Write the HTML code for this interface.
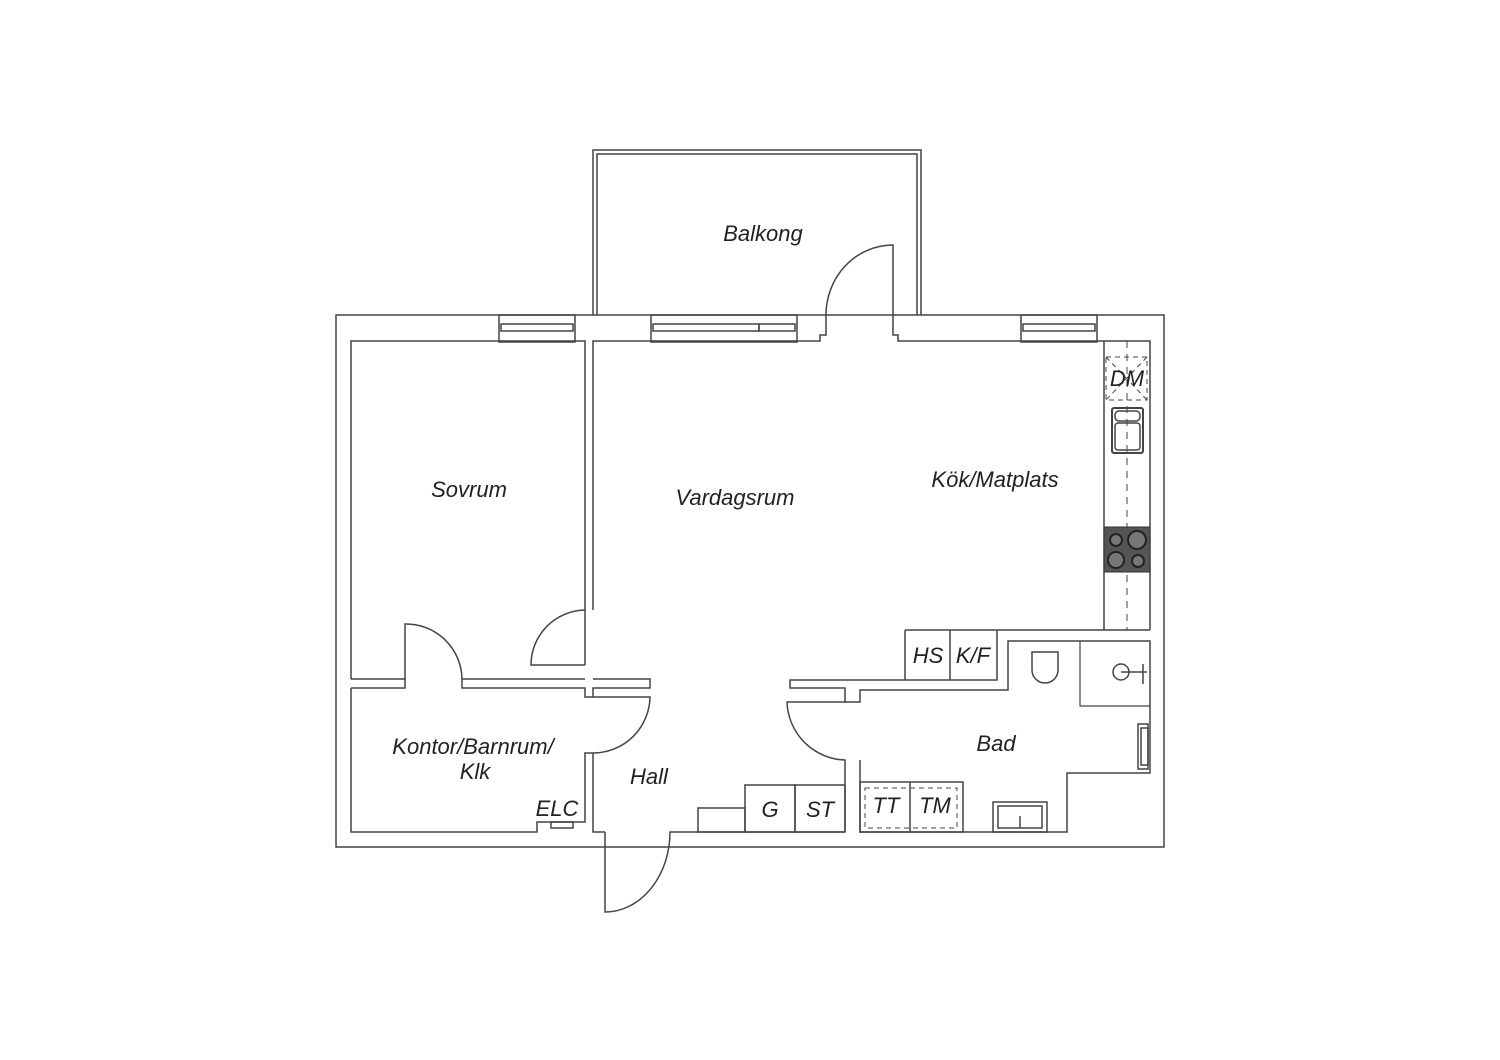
<!DOCTYPE html>
<html><head><meta charset="utf-8"><style>
html,body{margin:0;padding:0;background:#fff;}
svg{display:block;}
text{font-family:"Liberation Sans",sans-serif;font-style:italic;fill:#222;}
</style></head><body>
<svg width="1500" height="1060" viewBox="0 0 1500 1060" xmlns="http://www.w3.org/2000/svg">
<g fill="none" stroke="#444" stroke-width="1.5">
<!-- balcony -->
<path d="M593,315 V150 H921 V315"/>
<path d="M597,315 V154 H917 V315"/>
<!-- outer wall -->
<rect x="336" y="315" width="828" height="532"/>
<!-- windows -->
<rect x="499" y="315" width="76" height="27"/>
<rect x="501" y="324" width="72" height="7"/>
<rect x="651" y="315" width="146" height="27"/>
<rect x="653" y="324" width="106" height="7"/><rect x="759" y="324" width="36" height="7"/>
<rect x="1021" y="315" width="76" height="27"/>
<rect x="1023" y="324" width="72" height="7"/>
<!-- Sovrum -->
<path d="M351,679 V341 H585 V665 M585,665 H531 A55,55 0 0 1 585,610"/>
<path d="M351,679 H405 V624 A56,56 0 0 1 462,679 H585"/>
<!-- living top and right -->
<path d="M593,610 V341 H820 V335 H826 V315"/>
<path d="M826,315 A67,70 0 0 1 893,245 V315 M893,315 V335 H898 V341 H1150 V630"/>
<!-- kitchen counter -->
<path d="M1104,341 V630 M905,630 H1150"/>
<path d="M1127,341 V630" stroke-dasharray="7,6" stroke-width="1"/>
<rect x="1106" y="357" width="41" height="43" stroke-dasharray="5,4" stroke-width="1"/>
<path d="M1106,357 L1147,400 M1147,357 L1106,400" stroke-dasharray="5,4" stroke-width="1"/>
<rect x="1112" y="408" width="31" height="45" rx="2" stroke-width="2"/>
<rect x="1115" y="411" width="25" height="10" rx="4"/>
<rect x="1115" y="423" width="25" height="27" rx="3"/>
<!-- wall sovrum/kontor -->
<path d="M351,688 H405 V679 M462,679 V688 H585 V697 H593 V688 H650 V679 H593"/>
<!-- kontor -->
<path d="M351,688 V832 H537 V822 H585 V753 H593 V832 H605"/>
<path d="M593,697 H650 A57,57 0 0 1 593,753"/>
<rect x="551" y="822" width="22" height="6"/>
<!-- front door -->
<path d="M605,832 V912 A65,80 0 0 0 670,832 H845"/>
<rect x="698" y="808" width="47" height="24"/>
<rect x="745" y="785" width="50" height="47"/>
<rect x="795" y="785" width="50" height="47"/>
<!-- bath -->
<path d="M845,832 V760 A60,60 0 0 1 787,702 H845 V688 H790 V680 H905 V630 M905,680 H997 V630 M950,630 V680"/>
<path d="M845,702 H860 V690 H1008 V641 H1150 V773 H1067 V832 H860 V760"/>
<path d="M1032,652 H1058 V670 A13,13 0 0 1 1032,670 Z"/>
<path d="M1080,641 V706 H1150 M1080,641" stroke-width="1.2"/>
<circle cx="1121" cy="672" r="8"/>
<path d="M1121,672 H1147 M1143,664 V684"/>
<rect x="1138" y="724" width="10" height="45"/><rect x="1141" y="728" width="7" height="37"/>
<rect x="860" y="782" width="103" height="50"/>
<path d="M910,782 V832"/>
<rect x="865" y="788" width="92" height="40" stroke-dasharray="5,4" stroke-width="1"/>
<rect x="993" y="802" width="54" height="30"/>
<rect x="998" y="806" width="44" height="22"/>
<path d="M1020,816 V828"/>
</g>
<!-- stove -->
<rect x="1104" y="527" width="46" height="45" fill="#555" stroke="#333"/>
<g fill="#777" stroke="#222" stroke-width="2">
<circle cx="1116" cy="540" r="6"/><circle cx="1137" cy="540" r="9"/>
<circle cx="1116" cy="560" r="8"/><circle cx="1138" cy="561" r="6"/>
</g>
<g font-size="22">
<text x="763" y="241" text-anchor="middle">Balkong</text>
<text x="469" y="497" text-anchor="middle">Sovrum</text>
<text x="735" y="505" text-anchor="middle">Vardagsrum</text>
<text x="995" y="487" text-anchor="middle">Kök/Matplats</text>
<text x="1127" y="386" text-anchor="middle">DM</text>
<text x="928" y="663" text-anchor="middle">HS</text>
<text x="973" y="663" text-anchor="middle">K/F</text>
<text x="996" y="751" text-anchor="middle">Bad</text>
<text x="473" y="754" text-anchor="middle">Kontor/Barnrum/</text>
<text x="475" y="779" text-anchor="middle">Klk</text>
<text x="649" y="784" text-anchor="middle">Hall</text>
<text x="557" y="816" text-anchor="middle">ELC</text>
<text x="770" y="817" text-anchor="middle">G</text>
<text x="820" y="817" text-anchor="middle">ST</text>
<text x="886" y="813" text-anchor="middle">TT</text>
<text x="935" y="813" text-anchor="middle">TM</text>
</g>
</svg>
</body></html>
